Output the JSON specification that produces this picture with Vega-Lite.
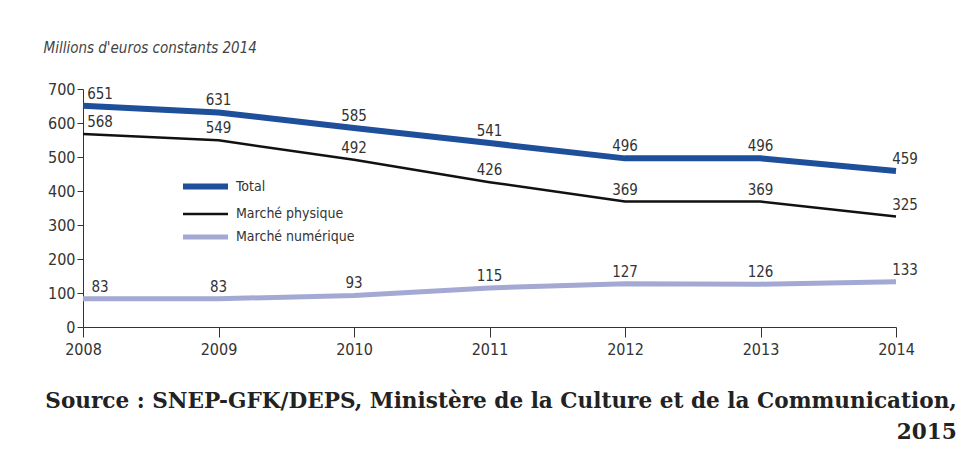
{
  "$schema": "https://vega.github.io/schema/vega-lite/v6.json",
  "width": 813,
  "height": 238,
  "autosize": {"type": "none"},
  "padding": {"left": 83, "top": 89, "right": 61, "bottom": 123},
  "background": "white",
  "config": {"view": {"stroke": null}, "font": "DejaVu Sans Condensed, sans-serif"},
  "title": {
    "text": ["Source : SNEP-GFK/DEPS, Ministère de la Culture et de la Communication,", "2015"],
    "orient": "bottom",
    "anchor": "end",
    "dx": 39,
    "offset": 34,
    "font": "DejaVu Serif",
    "fontSize": 21.6,
    "fontWeight": "bold",
    "color": "#222222",
    "lineHeight": 31
  },
  "data": {
    "values": [
      {"year": 2008, "series": "Total", "value": 651},
      {"year": 2009, "series": "Total", "value": 631},
      {"year": 2010, "series": "Total", "value": 585},
      {"year": 2011, "series": "Total", "value": 541},
      {"year": 2012, "series": "Total", "value": 496},
      {"year": 2013, "series": "Total", "value": 496},
      {"year": 2014, "series": "Total", "value": 459},
      {"year": 2008, "series": "Marché physique", "value": 568},
      {"year": 2009, "series": "Marché physique", "value": 549},
      {"year": 2010, "series": "Marché physique", "value": 492},
      {"year": 2011, "series": "Marché physique", "value": 426},
      {"year": 2012, "series": "Marché physique", "value": 369},
      {"year": 2013, "series": "Marché physique", "value": 369},
      {"year": 2014, "series": "Marché physique", "value": 325},
      {"year": 2008, "series": "Marché numérique", "value": 83},
      {"year": 2009, "series": "Marché numérique", "value": 83},
      {"year": 2010, "series": "Marché numérique", "value": 93},
      {"year": 2011, "series": "Marché numérique", "value": 115},
      {"year": 2012, "series": "Marché numérique", "value": 127},
      {"year": 2013, "series": "Marché numérique", "value": 126},
      {"year": 2014, "series": "Marché numérique", "value": 133}
    ]
  },
  "encoding": {
    "x": {
      "field": "year",
      "type": "ordinal",
      "scale": {"type": "point", "padding": 0},
      "axis": {
        "title": null,
        "labelAngle": 0,
        "labelFontSize": 16,
        "labelColor": "#333333",
        "labelPadding": 4,
        "tickSize": 10,
        "tickColor": "#333333",
        "domainColor": "#333333",
        "grid": false
      }
    },
    "y": {
      "field": "value",
      "type": "quantitative",
      "scale": {"domain": [0, 700], "nice": false},
      "axis": {
        "values": [0, 100, 200, 300, 400, 500, 600, 700],
        "title": "Millions d'euros constants 2014",
        "titleAngle": 0,
        "titleX": -40,
        "titleY": -37,
        "titleAlign": "left",
        "titleBaseline": "alphabetic",
        "titleFontSize": 15,
        "titleFontStyle": "italic",
        "titleFontWeight": "normal",
        "titleColor": "#444444",
        "labelFontSize": 16,
        "labelColor": "#333333",
        "labelPadding": 2,
        "tickSize": 6,
        "tickColor": "#333333",
        "domainColor": "#333333",
        "grid": false
      }
    }
  },
  "layer": [
    {
      "mark": {"type": "line", "strokeJoin": "round", "strokeCap": "butt"},
      "encoding": {
        "color": {
          "field": "series",
          "type": "nominal",
          "scale": {"domain": ["Total", "Marché physique", "Marché numérique"], "range": ["#1d4f9a", "#111111", "#a3a9d3"]},
          "legend": {
            "title": null,
            "orient": "none",
            "legendX": 112,
            "legendY": 87,
            "symbolType": "M-3,0H3",
            "symbolSize": 225,
            "rowPadding": 6,
            "labelFontSize": 14,
            "labelColor": "#333333",
            "labelOffset": 20
          }
        },
        "strokeWidth": {
          "field": "series",
          "type": "nominal",
          "scale": {"type": "ordinal", "domain": ["Total", "Marché physique", "Marché numérique"], "range": [6, 2.5, 5]},
          "legend": {
            "title": null,
            "orient": "none",
            "legendX": 112,
            "legendY": 87,
            "symbolType": "M-3,0H3",
            "symbolSize": 225,
            "rowPadding": 6,
            "labelFontSize": 14,
            "labelColor": "#333333",
            "labelOffset": 20
          }
        }
      }
    },
    {
      "transform": [{"filter": "datum.year != 2008 && datum.year != 2014"}],
      "mark": {"type": "text", "dy": -12, "fontSize": 15, "color": "#333333"},
      "encoding": {"text": {"field": "value", "type": "quantitative"}}
    },
    {
      "transform": [{"filter": "datum.year == 2008"}],
      "mark": {"type": "text", "dy": -12, "dx": 17, "fontSize": 15, "color": "#333333"},
      "encoding": {"text": {"field": "value", "type": "quantitative"}}
    },
    {
      "transform": [{"filter": "datum.year == 2014"}],
      "mark": {"type": "text", "dy": -12, "dx": 9, "fontSize": 15, "color": "#333333"},
      "encoding": {"text": {"field": "value", "type": "quantitative"}}
    }
  ]
}
